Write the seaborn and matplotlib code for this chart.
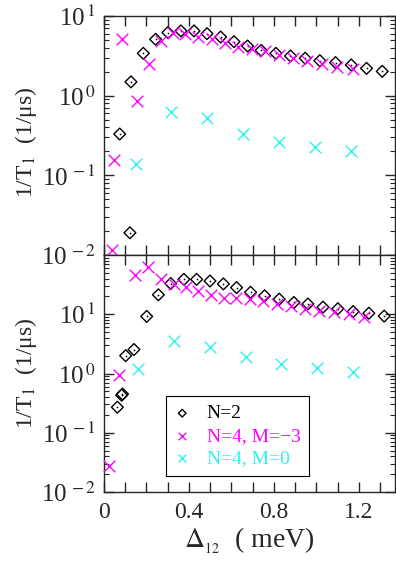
import numpy as np
import pandas as pd
import matplotlib
matplotlib.use("Agg")
import matplotlib.pyplot as plt
import seaborn as sns
from matplotlib.ticker import LogLocator, MultipleLocator, NullFormatter, FuncFormatter

# ---------------- data ----------------
# top panel
top_n2_x = [0.074, 0.122, 0.127, 0.185, 0.243, 0.301, 0.362, 0.424, 0.485, 0.549, 0.612, 0.676,
            0.740, 0.809, 0.878, 0.947, 1.016, 1.090, 1.164, 1.236, 1.310]
top_n2_y = [0.33, 0.019, 1.49, 3.4, 5.1, 6.2, 6.5, 6.5, 6.0, 5.45, 4.76, 4.2,
            3.7, 3.4, 3.15, 2.95, 2.75, 2.6, 2.43, 2.2, 2.02]
top_m3_x = [0.039, 0.046, 0.086, 0.155, 0.212, 0.268, 0.325, 0.383, 0.444, 0.507, 0.568, 0.631,
            0.695, 0.758, 0.825, 0.891, 0.958, 1.026, 1.098, 1.170]
top_m3_y = [0.0117, 0.157, 5.1, 0.86, 2.5, 4.85, 6.2, 6.0, 5.5, 5.1, 4.55, 4.1,
            3.9, 3.6, 3.25, 2.95, 2.7, 2.5, 2.3, 2.14]
top_m0_x = [0.151, 0.317, 0.486, 0.654, 0.824, 0.993, 1.162]
top_m0_y = [0.138, 0.62, 0.52, 0.333, 0.265, 0.229, 0.202]

# bottom panel
bot_n2_x = [0.063, 0.083, 0.087, 0.102, 0.141, 0.201, 0.256, 0.314, 0.376, 0.436, 0.499, 0.562,
            0.624, 0.690, 0.756, 0.825, 0.894, 0.960, 1.031, 1.101, 1.173, 1.247, 1.319]
bot_n2_y = [0.27, 0.43, 0.45, 2.0, 2.54, 9.2, 21.3, 33.0, 38.8, 38.8, 36.4, 32.5,
            28.2, 23.5, 20.5, 18.0, 15.8, 14.9, 13.2, 12.4, 11.1, 10.4, 9.3]
bot_m3_x = [0.024, 0.071, 0.144, 0.207, 0.268, 0.328, 0.386, 0.442, 0.504, 0.563, 0.623, 0.686,
            0.748, 0.814, 0.880, 0.946, 1.012, 1.082, 1.153, 1.224]
bot_m3_y = [0.028, 0.93, 46.0, 63.0, 40.0, 33.0, 29.0, 24.8, 21.3, 18.7, 18.5, 18.2,
            16.9, 15.1, 13.9, 12.4, 11.4, 10.8, 10.0, 9.0]
bot_m0_x = [0.160, 0.331, 0.499, 0.667, 0.833, 1.004, 1.173]
bot_m0_y = [1.2, 3.55, 2.82, 1.87, 1.45, 1.23, 1.05]

labels = ["N=2", "N=4, M=\u22123", "N=4, M=0"]
colors = ["black", "#ff00ff", "#2ef2f2"]

# ---------------- style ----------------
sns.set_style("ticks")
plt.rcParams["font.family"] = ["Liberation Serif", "DejaVu Serif"]
plt.rcParams["mathtext.fontset"] = "stix"
plt.rcParams["axes.linewidth"] = 1.0

fig = plt.figure(figsize=(3.96, 5.70), dpi=100)
L, R = 104 / 396, 395 / 396
ax_top = fig.add_axes([L, 1 - 255 / 570, R - L, (255 - 16) / 570])
ax_bot = fig.add_axes([L, 1 - 492 / 570, R - L, (492 - 255) / 570])


def logfmt(v, p):
    e = int(round(np.log10(v)))
    s = str(e).replace("-", "\u2212")
    return r"10$^{\,%s}$" % s


def draw(ax, n2x, n2y, m3x, m3y, m0x, m0y, legend=False):
    sns.scatterplot(x=n2x, y=n2y, ax=ax, marker="D", s=36, fc="none", ec=colors[0],
                    linewidth=1.0, label=labels[0] if legend else None, clip_on=False, zorder=3)
    sns.scatterplot(x=n2x, y=n2y, ax=ax, marker="o", s=1.5, color=colors[0],
                    linewidth=0, clip_on=False, zorder=3)
    sns.scatterplot(x=m3x, y=m3y, ax=ax, marker="x", s=70, color=colors[1],
                    linewidth=1.0, label=labels[1] if legend else None, clip_on=False, zorder=3)
    sns.scatterplot(x=m0x, y=m0y, ax=ax, marker="x", s=70, color=colors[2],
                    linewidth=1.0, label=labels[2] if legend else None, clip_on=False, zorder=3)
    ax.set_yscale("log")
    ax.set_xlim(0, 1.37)
    ax.xaxis.set_major_locator(MultipleLocator(0.4))
    ax.xaxis.set_minor_locator(MultipleLocator(0.1))
    ax.yaxis.set_major_locator(LogLocator(base=10, numticks=10))
    ax.yaxis.set_major_formatter(FuncFormatter(logfmt))
    ax.yaxis.set_minor_locator(LogLocator(base=10, subs=np.arange(2, 10), numticks=20))
    ax.yaxis.set_minor_formatter(NullFormatter())
    ax.tick_params(which="both", direction="in", top=True, right=True)
    ax.tick_params(axis="y", labelsize=18, pad=6)
    ax.tick_params(axis="x", labelsize=17, pad=7)
    ax.tick_params(which="major", length=7, width=1)
    ax.tick_params(axis="y", which="minor", length=3.5, width=0.8)
    ax.tick_params(axis="x", which="minor", length=7, width=1)
    ax.set_ylabel("1/T$_1$  (1/\u03bcs)", fontsize=17)


draw(ax_top, top_n2_x, top_n2_y, top_m3_x, top_m3_y, top_m0_x, top_m0_y)
ax_top.set_ylim(1e-2, 1e1)
ax_top.tick_params(axis="x", labelbottom=False)
ax_top.set_xlabel("")
ax_top.yaxis.set_label_coords(-0.222, 0.47)

draw(ax_bot, bot_n2_x, bot_n2_y, bot_m3_x, bot_m3_y, bot_m0_x, bot_m0_y, legend=True)
ax_bot.set_ylim(1e-2, 1e2)
ax_bot.set_yticks([1e-2, 1e-1, 1e0, 1e1])
ax_bot.yaxis.set_major_formatter(FuncFormatter(logfmt))
ax_bot.yaxis.set_minor_locator(LogLocator(base=10, subs=np.arange(2, 10), numticks=20))
ax_bot.yaxis.set_label_coords(-0.222, 0.5)
ax_bot.xaxis.set_major_formatter(FuncFormatter(lambda v, p: "0" if abs(v) < 1e-9 else f"{v:.1f}"))
ax_bot.set_xlabel("$\\Delta_{_{12}}$  ( meV)", fontsize=20, labelpad=2)

leg = ax_bot.legend(loc="lower left", bbox_to_anchor=(0.212, 0.0675), fontsize=14,
                    frameon=True, fancybox=False, edgecolor="black", framealpha=1,
                    borderaxespad=0, handletextpad=0.85, borderpad=0.45, labelspacing=0.25,
                    handlelength=0.8, markerscale=0.65)
leg.get_frame().set_linewidth(0.8)
for t, c in zip(leg.get_texts(), colors):
    t.set_color(c)

fig.savefig("out.png", dpi=100)
